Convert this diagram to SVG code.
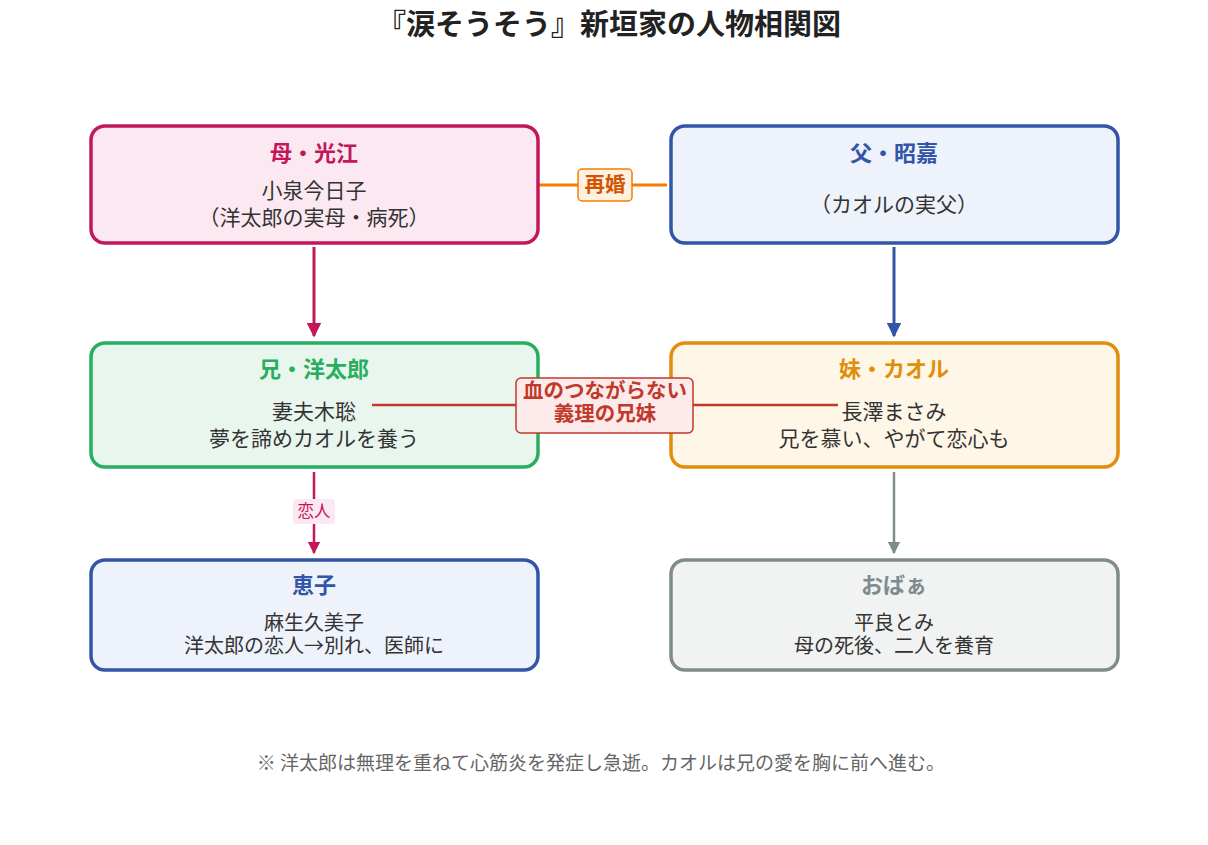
<svg xmlns="http://www.w3.org/2000/svg" width="1208" height="845" viewBox="0 0 1208 845">
<defs>
<style>
text{font-family:"Noto Sans CJK JP","Liberation Sans",sans-serif;text-anchor:middle;}
.title{font-size:29px;font-weight:bold;fill:#222;}
.nt{font-size:22px;font-weight:bold;}
.nb{font-size:21px;fill:#333;}
.ns{font-size:20px;fill:#333;}
.box{stroke-width:3.5;}
.note{font-size:19px;fill:#666;}
.bl{font-size:20.5px;font-weight:bold;fill:#C0392B;}
</style>
<marker id="aM" viewBox="0 0 10 10" refX="9" refY="5" markerWidth="5" markerHeight="5" orient="auto"><path d="M0,0L10,5L0,10z" fill="#C2185B"/></marker>
<marker id="aB" viewBox="0 0 10 10" refX="9" refY="5" markerWidth="5" markerHeight="5" orient="auto"><path d="M0,0L10,5L0,10z" fill="#3355A8"/></marker>
<marker id="aG" viewBox="0 0 10 10" refX="9" refY="5" markerWidth="5" markerHeight="5" orient="auto"><path d="M0,0L10,5L0,10z" fill="#7F8C8D"/></marker>
</defs>
<rect width="1208" height="845" fill="#fff"/>
<text class="title" x="609" y="35">『涙そうそう』新垣家の人物相関図</text>

<g id="connectors">
<line x1="314" y1="247" x2="314" y2="336" stroke="#C2185B" stroke-width="3" marker-end="url(#aM)"/>
<line x1="894" y1="247" x2="894" y2="336" stroke="#3355A8" stroke-width="3" marker-end="url(#aB)"/>
<line x1="538" y1="185" x2="667" y2="185" stroke="#F57C00" stroke-width="3"/>
<rect x="578" y="169" width="54" height="32" rx="4" fill="#FFF1E0" stroke="#F57C00" stroke-width="1.5"/>
<text x="605" y="192" font-size="20.5" font-weight="bold" fill="#D35400">再婚</text>
<line x1="314" y1="472" x2="314" y2="553" stroke="#C2185B" stroke-width="2.5" marker-end="url(#aM)"/>
<rect x="293" y="499" width="42" height="25" rx="3" fill="#FCE8F1"/>
<text x="314" y="517" font-size="16.5" fill="#C2185B">恋人</text>
<line x1="894" y1="472" x2="894" y2="553" stroke="#7F8C8D" stroke-width="2.5" marker-end="url(#aG)"/>
</g>

<g id="n-mother">
<rect class="box" x="91" y="126" width="447" height="117" rx="14" fill="#FCE8F1" stroke="#C2185B"/>
<text class="nt" x="314" y="161" fill="#C2185B">母・光江</text>
<text class="nb" x="314" y="198">小泉今日子</text>
<text class="nb" x="314" y="225">（洋太郎の実母・病死）</text>
</g>
<g id="n-father">
<rect class="box" x="671" y="126" width="447" height="117" rx="14" fill="#EEF2FB" stroke="#3355A8"/>
<text class="nt" x="894" y="161" fill="#3355A8">父・昭嘉</text>
<text class="nb" x="894" y="212">（カオルの実父）</text>
</g>
<g id="n-brother">
<rect class="box" x="91" y="343" width="447" height="124" rx="14" fill="#E9F6EE" stroke="#27AE60"/>
<text class="nt" x="314" y="377" fill="#27AE60">兄・洋太郎</text>
<text class="nb" x="314" y="419">妻夫木聡</text>
<text class="nb" x="314" y="446">夢を諦めカオルを養う</text>
</g>
<g id="n-sister">
<rect class="box" x="671" y="343" width="447" height="124" rx="14" fill="#FEF6E6" stroke="#E08E0B"/>
<text class="nt" x="894" y="377" fill="#E08E0B">妹・カオル</text>
<text class="nb" x="894" y="419">長澤まさみ</text>
<text class="nb" x="894" y="446">兄を慕い、やがて恋心も</text>
</g>
<g id="n-keiko">
<rect class="box" x="91" y="560" width="447" height="110" rx="14" fill="#EEF2FB" stroke="#3355A8"/>
<text class="nt" x="314" y="593" fill="#3355A8">恵子</text>
<text class="ns" x="314" y="630">麻生久美子</text>
<text class="ns" x="314" y="653">洋太郎の恋人→別れ、医師に</text>
</g>
<g id="n-obaa">
<rect class="box" x="671" y="560" width="447" height="110" rx="14" fill="#F1F2F2" stroke="#7F8C8D"/>
<text class="nt" x="894" y="593" fill="#7F8C8D">おばぁ</text>
<text class="ns" x="894" y="630">平良とみ</text>
<text class="ns" x="894" y="653">母の死後、二人を養育</text>
</g>

<g id="blood-link">
<line x1="372" y1="405" x2="838" y2="405" stroke="#C0392B" stroke-width="2.5"/>
<rect x="516" y="378" width="177" height="55" rx="5" fill="#FDEAEA" stroke="#C0392B" stroke-width="1.5"/>
<text class="bl" x="605" y="398">血のつながらない</text>
<text class="bl" x="605" y="421">義理の兄妹</text>
</g>

<text class="note" x="601" y="770">※ 洋太郎は無理を重ねて心筋炎を発症し急逝。カオルは兄の愛を胸に前へ進む。</text>
</svg>
